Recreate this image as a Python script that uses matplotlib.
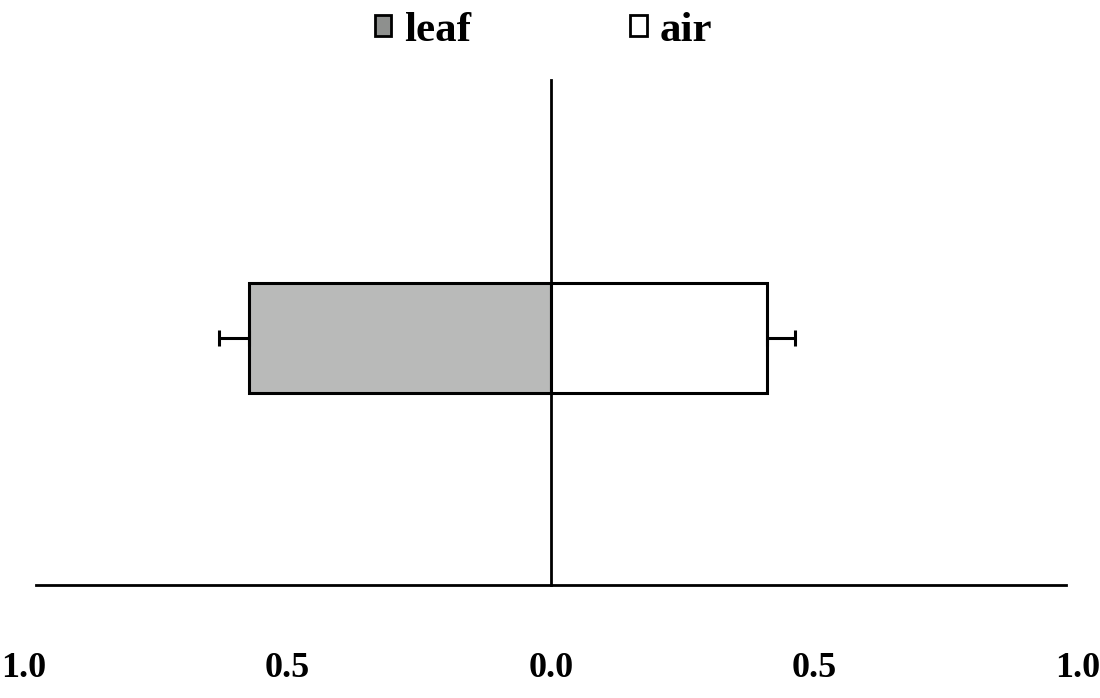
import matplotlib.pyplot as plt
from matplotlib.patches import Patch

# data
series = ["leaf", "air"]
values = [-0.573, 0.410]
errors = [0.057, 0.053]
bar_colors = ["#b9bab9", "#ffffff"]
legend_colors = ["#8e908e", "#ffffff"]
tick_pos = [-1.0, -0.5, 0.0, 0.5, 1.0]
tick_labels = ["1.0", "0.5", "0.0", "0.5", "1.0"]

plt.rcParams["font.family"] = ["Liberation Serif", "DejaVu Serif"]
plt.rcParams["font.weight"] = "bold"

fig = plt.figure(figsize=(11, 6.98), dpi=100)
ax = fig.add_axes([24 / 1100, (698 - 585) / 698, 1054 / 1100, 505 / 698])

for v, e, c in zip(values, errors, bar_colors):
    # one-sided error bar, pointing away from zero
    xerr = [[e], [0]] if v < 0 else [[0], [e]]
    ax.barh(0.49, v, height=0.218, color=c, edgecolor="black", linewidth=2.2,
            xerr=xerr, error_kw=dict(ecolor="black", elinewidth=2.2, capsize=6,
                                     capthick=2.2), zorder=2)

ax.set_xlim(-1.0, 1.0)
ax.set_ylim(0, 1)

# axis lines: horizontal baseline and a vertical line through zero
for s in ["top", "right"]:
    ax.spines[s].set_visible(False)
ax.spines["bottom"].set_bounds(-0.977, 0.977)
ax.spines["bottom"].set_linewidth(2.0)
ax.spines["left"].set_position(("data", 0))
ax.spines["left"].set_linewidth(2.0)
ax.spines["left"].set_zorder(3)
ax.set_yticks([])

ax.set_xticks(tick_pos)
ax.set_xticklabels(tick_labels, fontsize=26, fontweight="bold")
ax.tick_params(axis="x", length=0, pad=48)

handles = [Patch(facecolor=c, edgecolor="black", linewidth=2.0)
           for c in legend_colors]
fig.legend(handles, series, loc="upper center", bbox_to_anchor=(0.494, 1.038),
           ncol=2, frameon=False, prop=dict(size=31, weight="bold"),
           handlelength=0.38, handleheight=0.38, handletextpad=0.3,
           columnspacing=3.7)

fig.savefig("out.png", dpi=100)
